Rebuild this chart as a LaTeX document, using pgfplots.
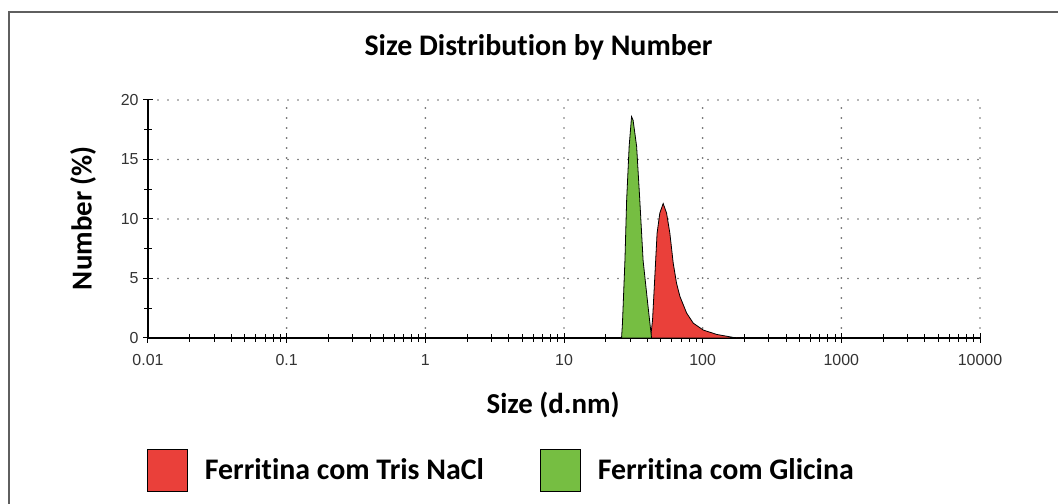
\documentclass[border=0pt]{standalone}
\usepackage{pgfplots}
\pgfplotsset{compat=1.18}
\usepackage{fontspec}
\setmainfont{Carlito}[Ligatures={NoCommon}]
\newfontfamily\arialf{Liberation Sans}
\definecolor{redfill}{RGB}{234,64,58}
\definecolor{greenfill}{RGB}{118,190,66}
\definecolor{gridgray}{RGB}{110,110,110}
\definecolor{framegray}{RGB}{95,95,95}
\begin{document}
\begin{tikzpicture}[x=1bp,y=1bp]
\path[use as bounding box] (0,0) rectangle (1058,504);
\draw[framegray, line width=2.5bp] (9,-5) -- (9,492) -- (1065,492);
\node[font=\bfseries\fontsize{30}{36}\selectfont] at (538.5,457) {Size Distribution by Number};
\begin{axis}[
 at={(148bp,166bp)}, anchor=south west,
 width=832bp, height=238bp, scale only axis,
 xmode=log, xmin=0.01, xmax=10000, ymin=0, ymax=20,
 axis x line=bottom, axis y line=left,
 axis line style={-, line width=1.2bp, black},
 xtick={0.01,0.1,1,10,100,1000,10000},
 xticklabels={0.01,0.1,1,10,100,1000,10000},
 minor xtick={0.02,0.03,0.04,0.05,0.06,0.07,0.08,0.09,0.2,0.3,0.4,0.5,0.6,0.7,0.8,0.9,2,3,4,5,6,7,8,9,20,30,40,50,60,70,80,90,200,300,400,500,600,700,800,900,2000,3000,4000,5000,6000,7000,8000,9000},
 ytick={0,5,10,15,20}, minor ytick={2.5,7.5,12.5,17.5},
 tick align=center, major tick length=10bp, minor tick length=8bp,
 every tick/.style={black, line width=1bp},
 xmajorgrids, ymajorgrids,
 major grid style={gridgray, line width=1.9bp, dash pattern=on 0bp off 10bp, line cap=round},
 ticklabel style={font=\arialf\fontsize{16}{18}\selectfont, text=black!80},
 /pgf/number format/assume math mode=true,
 xticklabel style={yshift=-8bp},
 yticklabel style={xshift=-1bp},
 xlabel={Size (d.nm)}, ylabel={Number (\%)},
 label style={font=\bfseries\fontsize{29}{34}\selectfont},
 xlabel style={at={(axis description cs:0.487,-0.2815)}, anchor=center},
 ylabel style={at={(axis description cs:-0.0781,0.504)}, anchor=center},
 legend columns=2,
 legend image code/.code={\draw[#1] (0bp,-21bp) rectangle (40bp,21bp);},
 legend style={at={(axis description cs:-0.005,-0.555)}, anchor=west, draw=none, fill=none,
   font=\bfseries\fontsize{30}{36}\selectfont,
   /tikz/every odd column/.append style={column sep=15bp},
   /tikz/every even column/.append style={column sep=54bp}},
]
\addplot[fill=redfill, draw=black, line width=0.8bp] coordinates {
(42.1,0) (43.5,1.5) (45.2,5.2) (46.9,8.8) (49.1,10.5) (51.9,11.3) (54.9,10.5) (58.0,8.8) (61.3,6.3) (64.8,4.6) (68.5,3.5) (76.6,2.1) (85.5,1.25) (100.9,0.67) (126,0.3) (166,0.05) (185,0)
} \closedcycle;
\addlegendentry{Ferritina com Tris NaCl}
\addplot[fill=greenfill, draw=black, line width=0.8bp] coordinates {
(26.0,0) (26.4,1.25) (27.5,6.5) (28.3,11.6) (29.5,16.1) (30.7,18.6) (31.5,18.3) (33.4,16.1) (35.2,11.6) (37.2,6.5) (40.5,2.5) (42.8,0)
} \closedcycle;
\addlegendentry{Ferritina com Glicina}
\end{axis}
\end{tikzpicture}
\end{document}
